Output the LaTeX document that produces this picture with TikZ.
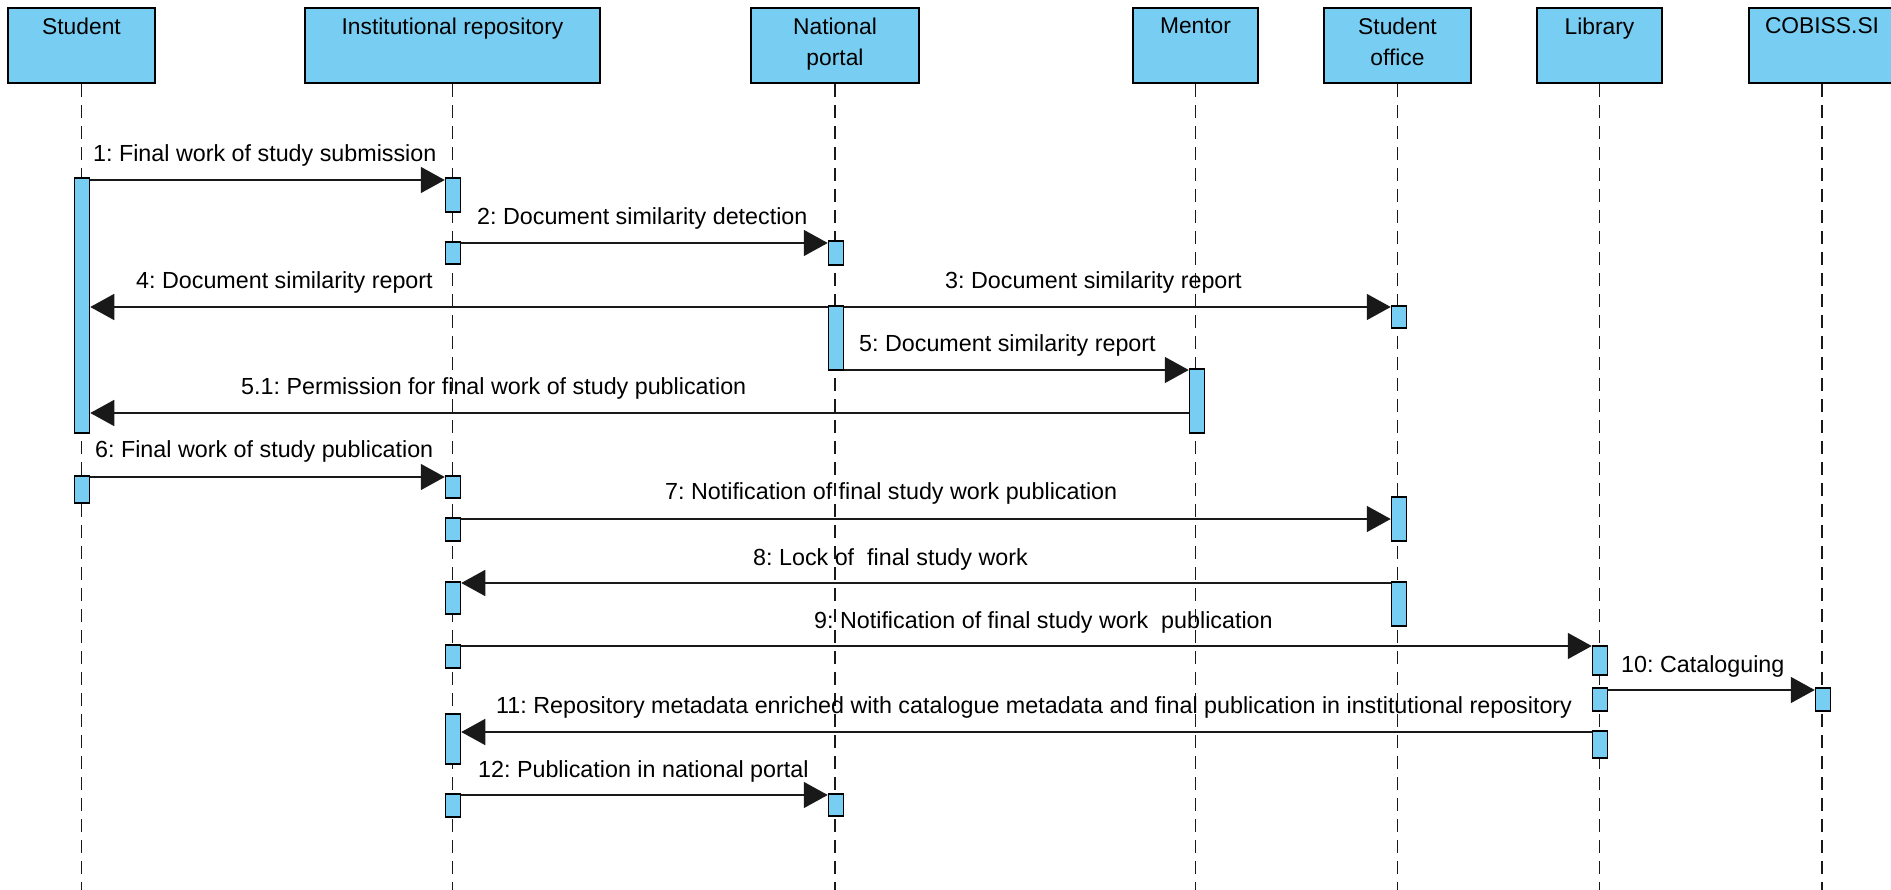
\documentclass[tikz,border=0pt]{standalone}
\usepackage{fontspec}
\setmainfont{Liberation Sans}
\usetikzlibrary{arrows.meta}
\definecolor{barblue}{RGB}{120,206,242}
\frenchspacing
\newcommand\hdrbox[4]{%
  \node[head, minimum width={#3-#2}, minimum height=75] (#1) at ({(#2+#3)/2},45.5) {};
  \node[htext] (#1t) at ({(#2+#3)/2},17.5) {#4};}
\newcommand\actbar[4]{%
  \node[act, minimum height={#4-#3}] (#1) at (#2,{(#3+#4)/2}) {};}
\begin{document}
\begin{tikzpicture}[x=1pt,y=-1pt,
  head/.style={draw=black, line width=2pt, fill=barblue, inner sep=0},
  htext/.style={font=\fontsize{22.8}{31}\selectfont, align=center, anchor=north, inner sep=0},
  life/.style={draw=black!90, line width=1.8pt, dash pattern=on 13pt off 8pt},
  act/.style={draw=black, line width=1.5pt, fill=barblue, minimum width=15, inner sep=0},
  msg/.style={draw=black!90, line width=1.6pt, -{Triangle[length=24pt,width=26pt]}},
  mlabel/.style={font=\fontsize{23.3}{27}\selectfont, anchor=base west, inner sep=0},
]
\useasboundingbox (0,0) rectangle (1891,890);
% header boxes
\hdrbox{hS}{8}{155}{Student}
\hdrbox{hR}{305}{600}{Institutional repository}
\hdrbox{hN}{751}{919}{National\\portal}
\hdrbox{hM}{1133}{1258}{Mentor}
\hdrbox{hO}{1324}{1471}{Student\\office}
\hdrbox{hL}{1537}{1662}{Library}
\hdrbox{hC}{1749}{1895}{COBISS.SI}
% lifelines
\foreach \h in {hS,hR,hN,hM,hO,hL,hC}
  \draw[life] (\h.south) -- (\h.south |- 0,890);
% activation bars
\actbar{sA}{82}{178}{433}
\actbar{sB}{82}{476}{503}
\actbar{r1}{453}{178}{212}
\actbar{r2}{453}{242}{264}
\actbar{r3}{453}{476}{498}
\actbar{r4}{453}{518}{541}
\actbar{r5}{453}{582}{614}
\actbar{r6}{453}{645}{668}
\actbar{r7}{453}{714}{764}
\actbar{r8}{453}{794}{817}
\actbar{n1}{836}{241}{265}
\actbar{n2}{836}{306}{370}
\actbar{n3}{836}{794}{816}
\actbar{m1}{1197}{369}{433}
\actbar{o1}{1399}{306}{328}
\actbar{o2}{1399}{497}{541}
\actbar{o3}{1399}{582}{626}
\actbar{l1}{1600}{646}{675}
\actbar{l2}{1600}{688}{711}
\actbar{l3}{1600}{731}{758}
\actbar{c1}{1823}{688}{711}
% messages
\draw[msg] (sA.east |- 0,180) -- (r1.west |- 0,180);
\draw[msg] (r2.east |- 0,243) -- (n1.west |- 0,243);
\draw[msg] (n2.east |- 0,307) -- (o1.west |- 0,307);
\draw[msg] (n2.west |- 0,307) -- (sA.east |- 0,307);
\draw[msg] (n2.east |- 0,370) -- (m1.west |- 0,370);
\draw[msg] (m1.west |- 0,413) -- (sA.east |- 0,413);
\draw[msg] (sB.east |- 0,477) -- (r3.west |- 0,477);
\draw[msg] (r4.east |- 0,519) -- (o2.west |- 0,519);
\draw[msg] (o3.west |- 0,583) -- (r5.east |- 0,583);
\draw[msg] (r6.east |- 0,646) -- (l1.west |- 0,646);
\draw[msg] (l2.east |- 0,690) -- (c1.west |- 0,690);
\draw[msg] (l3.west |- 0,732) -- (r7.east |- 0,732);
\draw[msg] (r8.east |- 0,795) -- (n3.west |- 0,795);
% labels
\node[mlabel] (t1) at (93,162) {1: Final work of study submission};
\node[mlabel] (t2) at (477,225) {2: Document similarity detection};
\node[mlabel] (t3) at (945,289) {3: Document similarity report};
\node[mlabel] (t4) at (136,289) {4: Document similarity report};
\node[mlabel] (t5) at (859,352) {5: Document similarity report};
\node[mlabel] (t51) at (241,395) {5.1: Permission for final work of study publication};
\node[mlabel] (t6) at (95,458) {6: Final work of study publication};
\node[mlabel] (t7) at (665,500) {7: Notification of final study work publication};
\node[mlabel] (t8) at (753,565) {8: Lock of \ final study work};
\node[mlabel] (t9) at (814,628) {9: Notification of final study work \ publication};
\node[mlabel] (t10) at (1621,672) {10: Cataloguing};
\node[mlabel] (t11) at (496,713) {11: Repository metadata enriched with catalogue metadata and final publication in institutional repository};
\node[mlabel] (t12) at (478,777) {12: Publication in national portal};
\end{tikzpicture}
\end{document}
